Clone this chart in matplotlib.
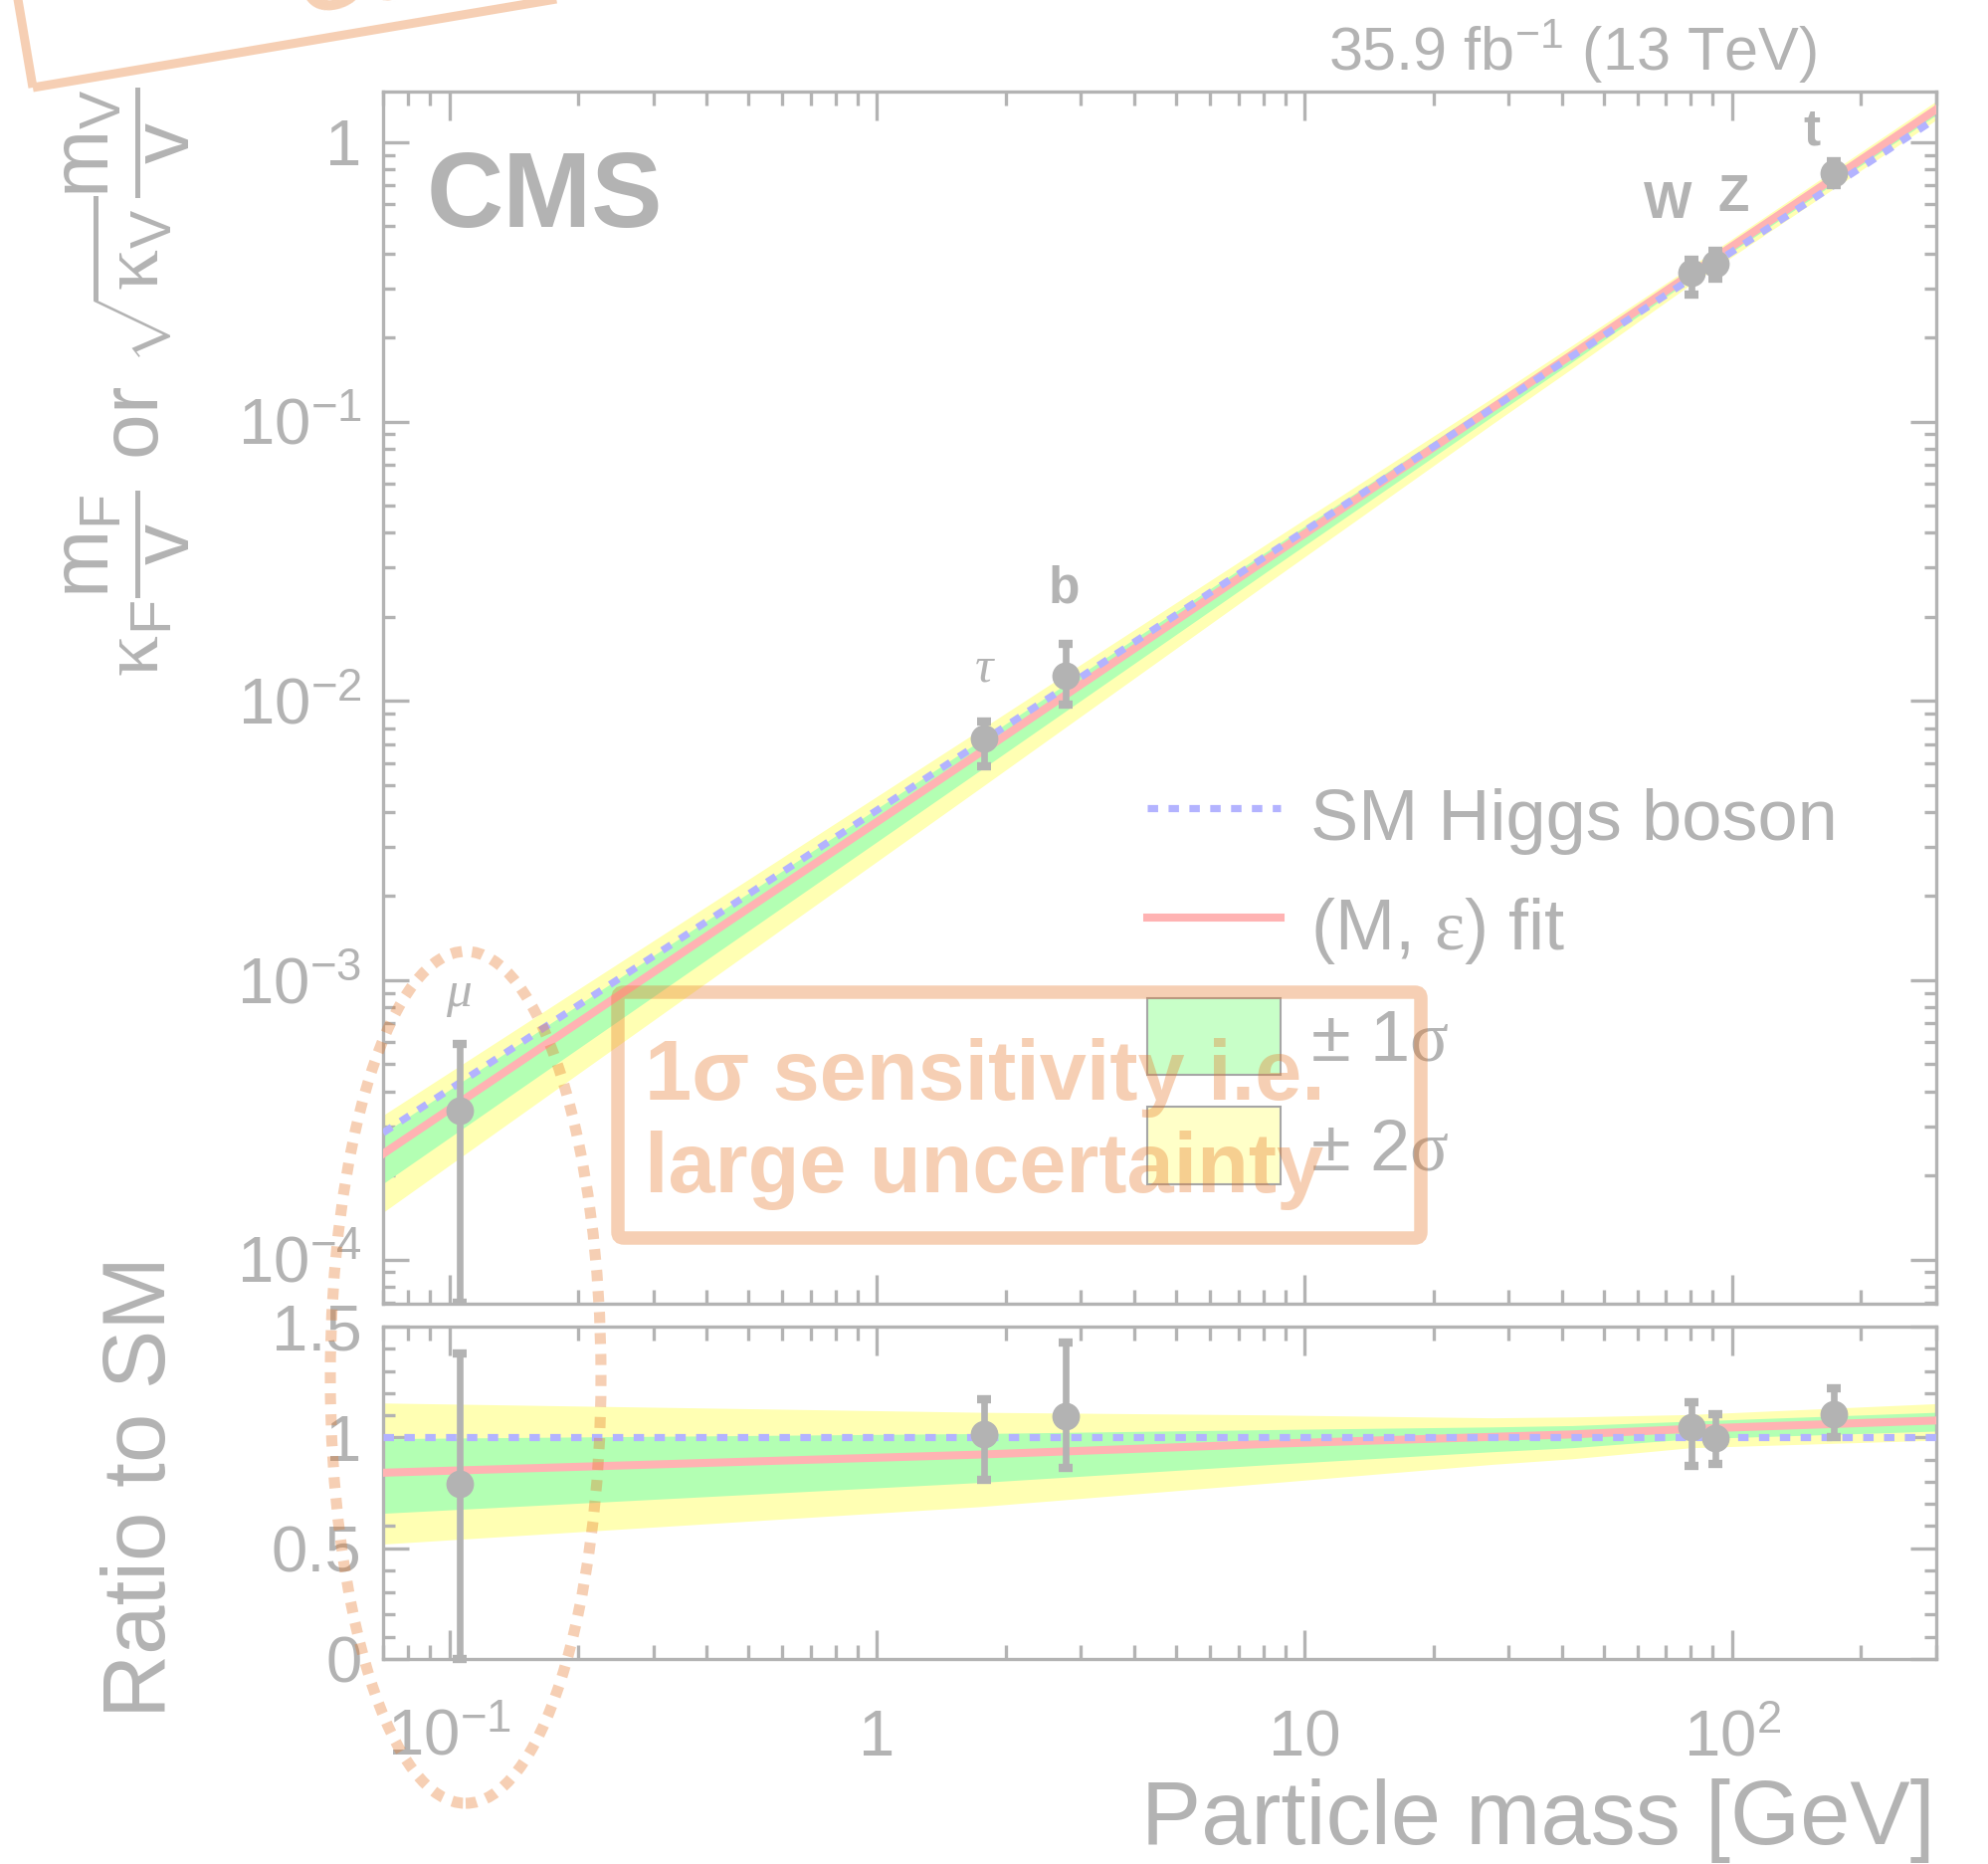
import numpy as np
import matplotlib
matplotlib.use("Agg")
import matplotlib.pyplot as plt
from matplotlib.ticker import FixedLocator, FixedFormatter, LogLocator, MultipleLocator, NullFormatter
from matplotlib.patches import Rectangle, Ellipse, FancyBboxPatch, Patch
from matplotlib.lines import Line2D

plt.rcParams["font.family"] = ["Liberation Sans", "DejaVu Sans"]
plt.rcParams["mathtext.fontset"] = "custom"
plt.rcParams["mathtext.rm"] = "Liberation Sans"
plt.rcParams["mathtext.it"] = "Liberation Sans:italic"
plt.rcParams["mathtext.bf"] = "Liberation Sans:bold"
plt.rcParams["mathtext.sf"] = "Liberation Serif"

GREY = "#b3b3b3"
GREEN = "#b3ffb3"
YELLOW = "#ffffb3"
RED = "#ffb3b3"
BLUE = "#b3b3ff"
ORANGE = "#e67828"
VEV = 246.22

# measured couplings
particles = ["μ", "τ", "b", "W", "Z", "t"]
masses = [0.1057, 1.777, 2.76, 80.4, 91.19, 172.5]
coup_val = [3.40e-4, 7.32e-3, 1.229e-2, 0.342, 0.369, 0.774]
coup_lo = [7.0e-5, 5.85e-3, 9.69e-3, 0.284, 0.326, 0.702]
coup_hi = [5.92e-4, 8.45e-3, 1.603e-2, 0.379, 0.409, 0.858]
ratio_val = [0.793, 1.014, 1.096, 1.048, 0.996, 1.104]
ratio_lo = [0.0, 0.811, 0.864, 0.871, 0.879, 1.002]
ratio_hi = [1.380, 1.171, 1.430, 1.160, 1.104, 1.224]

# (M, eps) fit and bands, as ratio to SM
band_mass = [0.07, 1.74, 8.45, 27.5, 42.2, 80.0, 300.0]
band_2lo = [0.519, 0.688, 0.796, 0.879, 0.904, 0.954, 0.988]
band_1lo = [0.658, 0.797, 0.879, 0.936, 0.954, 0.994, 1.029]
fit_ratio = [0.841, 0.923, 0.972, 1.003, 1.014, 1.039, 1.077]
band_1hi = [0.995, 1.018, 1.036, 1.048, 1.054, 1.074, 1.114]
band_2hi = [1.156, 1.114, 1.102, 1.089, 1.093, 1.104, 1.153]

sm_mass = [0.07, 300.0]

label_offsets = [(-1, 105), (0, 58), (-2, 74), (-24, 55), (18, 53), (-22, 29)]

fig = plt.figure(figsize=(19.99, 18.73), dpi=100)
ax = fig.add_axes([0.1926, 0.3006, 0.7809, 0.6503])
rax = fig.add_axes([0.1926, 0.1100, 0.7809, 0.1782])

bm = np.array(band_mass)
sm_line = bm / VEV

# upper panel
ax.fill_between(bm, np.array(band_2lo) * sm_line, np.array(band_2hi) * sm_line,
                color=YELLOW, lw=0, zorder=1)
ax.fill_between(bm, np.array(band_1lo) * sm_line, np.array(band_1hi) * sm_line,
                color=GREEN, lw=0, zorder=2)
ax.plot(bm, np.array(fit_ratio) * sm_line, color=RED, lw=5.8, zorder=3)
ax.plot(sm_mass, np.array(sm_mass) / VEV, color=BLUE, lw=5.2,
        dashes=(1.45, 1.45), zorder=4)
cv = np.array(coup_val)
ax.errorbar(masses, cv, yerr=[cv - np.array(coup_lo), np.array(coup_hi) - cv],
            fmt="o", color=GREY, ms=19, elinewidth=4.8, capsize=5,
            capthick=6, zorder=5)

for name, m, v, off in zip(particles, masses, coup_val, label_offsets):
    if name in ("μ", "τ"):
        kw = dict(family="Liberation Serif", style="italic")
    else:
        kw = dict(weight="bold")
    ax.annotate(name, (m, v), xytext=off, textcoords="offset pixels",
                ha="center", va="baseline", fontsize=37, color=GREY, **kw)

ax.set_xscale("log")
ax.set_yscale("log")
ax.set_xlim(0.07, 300)
ax.set_ylim(6.95e-5, 1.52)

# ratio panel
rax.fill_between(bm, band_2lo, band_2hi, color=YELLOW, lw=0, zorder=1)
rax.fill_between(bm, band_1lo, band_1hi, color=GREEN, lw=0, zorder=2)
rax.plot(bm, fit_ratio, color=RED, lw=5.8, zorder=3)
rax.axhline(1.0, color=BLUE, lw=5.2, dashes=(1.45, 1.45), zorder=4)
rv = np.array(ratio_val)
rax.errorbar(masses, rv, yerr=[rv - np.array(ratio_lo), np.array(ratio_hi) - rv],
             fmt="o", color=GREY, ms=19, elinewidth=4.8, capsize=5,
             capthick=6, zorder=5, clip_on=False)
rax.set_xscale("log")
rax.set_xlim(0.07, 300)
rax.set_ylim(0, 1.5)

for a in (ax, rax):
    for sp in a.spines.values():
        sp.set_color(GREY)
        sp.set_linewidth(2.4)
    a.tick_params(which="both", direction="in", top=True, right=True,
                  color=GREY, labelcolor=GREY, width=2.4, labelsize=47)
    a.tick_params(axis="x", which="major", length=20.6)
    a.tick_params(axis="x", which="minor", length=10.2)
    a.tick_params(axis="y", which="major", length=18.4, pad=15.5)
    a.tick_params(axis="y", which="minor", length=8.7)
    a.xaxis.set_major_locator(FixedLocator([0.1, 1, 10, 100]))
    a.xaxis.set_minor_locator(LogLocator(base=10, subs=np.arange(2, 10), numticks=20))
    a.xaxis.set_minor_formatter(NullFormatter())

ax.xaxis.set_major_formatter(NullFormatter())
ax.yaxis.set_major_locator(FixedLocator([1e-4, 1e-3, 1e-2, 1e-1, 1]))
ax.yaxis.set_major_formatter(FixedFormatter(
    [r"$10^{-4}$", r"$10^{-3}$", r"$10^{-2}$", r"$10^{-1}$", "1"]))
ax.yaxis.set_minor_locator(LogLocator(base=10, subs=np.arange(2, 10), numticks=20))
ax.yaxis.set_minor_formatter(NullFormatter())

rax.xaxis.set_major_formatter(FixedFormatter([r"$10^{-1}$", "1", "10", r"$10^{2}$"]))
rax.yaxis.set_major_locator(FixedLocator([0, 0.5, 1, 1.5]))
rax.yaxis.set_major_formatter(FixedFormatter(["0", "0.5", "1", "1.5"]))
rax.yaxis.set_minor_locator(MultipleLocator(0.1))
rax.tick_params(axis="x", which="major", pad=70)
for lab in rax.get_xticklabels():
    lab.set_va("baseline")

# legend
handles = [
    Line2D([], [], color=BLUE, lw=5.2, dashes=(1.45, 1.45)),
    Line2D([], [], color=RED, lw=5.8),
    Patch(facecolor="#c8ffc8", edgecolor="#a6a6a6", lw=1.5),
    Patch(facecolor="#ffffc8", edgecolor="#a6a6a6", lw=1.5),
]
labels = ["SM Higgs boson", r"(M, $\mathsf{\varepsilon}$) fit",
          r"± 1$\mathsf{\sigma}$", r"± 2$\mathsf{\sigma}$"]
leg = ax.legend(handles, labels, loc="upper left", bbox_to_anchor=(0.4919, 0.4345),
                frameon=False, fontsize=52, borderpad=0, borderaxespad=0,
                handlelength=1.855, handleheight=1.28, handletextpad=0.42,
                labelspacing=0.44, labelcolor=GREY)
leg.set_zorder(6)

# texts
fig.text(0.2144, 0.8784, "CMS", fontsize=77, weight="bold", color=GREY,
         ha="left", va="baseline")
fig.text(0.9135, 0.9621, r"35.9 fb$^{-1}$ (13 TeV)", fontsize=44, color=GREY,
         ha="right", va="baseline")
fig.text(0.9730, 0.0105, "Particle mass [GeV]", fontsize=65, color=GREY,
         ha="right", va="baseline")
fig.text(0.0830, 0.2023, "Ratio to SM", fontsize=64, color=GREY, rotation=90,
         rotation_mode="anchor", ha="center", va="baseline")
fig.text(0.0640, 0.7950,
         r"$\mathsf{\kappa}_\mathrm{F}\dfrac{\mathrm{m}_\mathrm{F}}{\mathrm{v}}$ or "
         r"$\sqrt{\mathsf{\kappa}_\mathrm{V}}\dfrac{\mathrm{m}_\mathrm{V}}{\mathrm{v}}$",
         fontsize=59, color=GREY, rotation=90, ha="center", va="center")

# hand-drawn annotations on top
inch = fig.dpi_scale_trans
box = FancyBboxPatch((6.21, 6.29), 8.07, 2.47, boxstyle="round,pad=0,rounding_size=0.06",
                     transform=inch, fill=False, lw=9.7, edgecolor=ORANGE,
                     alpha=0.35, zorder=10)
fig.add_artist(box)
fig.text(6.48, 7.68, "1σ sensitivity i.e.", transform=inch, fontsize=61,
         weight="bold", color=ORANGE, alpha=0.35, ha="left", va="baseline", zorder=11)
fig.text(6.48, 6.75, "large uncertainty", transform=inch, fontsize=61,
         weight="bold", color=ORANGE, alpha=0.35, ha="left", va="baseline", zorder=11)
ell = Ellipse((4.68, 4.89), 2.72, 8.56, transform=inch, fill=False, lw=8,
              edgecolor=ORANGE, alpha=0.35, linestyle=(0, (1.0, 0.9)), zorder=10)
fig.add_artist(ell)
rect = Rectangle((0.33, 17.85), 9.0, 3.0, angle=9.6, transform=inch, fill=False,
                 lw=6.5, edgecolor=ORANGE, alpha=0.35, zorder=10)
fig.add_artist(rect)
fig.text(3.04, 18.585, "Good agreement", transform=inch, fontsize=61, weight="bold",
         color=ORANGE, alpha=0.35, rotation=9.6, rotation_mode="anchor",
         ha="left", va="baseline", zorder=11)

fig.savefig("out.png", dpi=100)
